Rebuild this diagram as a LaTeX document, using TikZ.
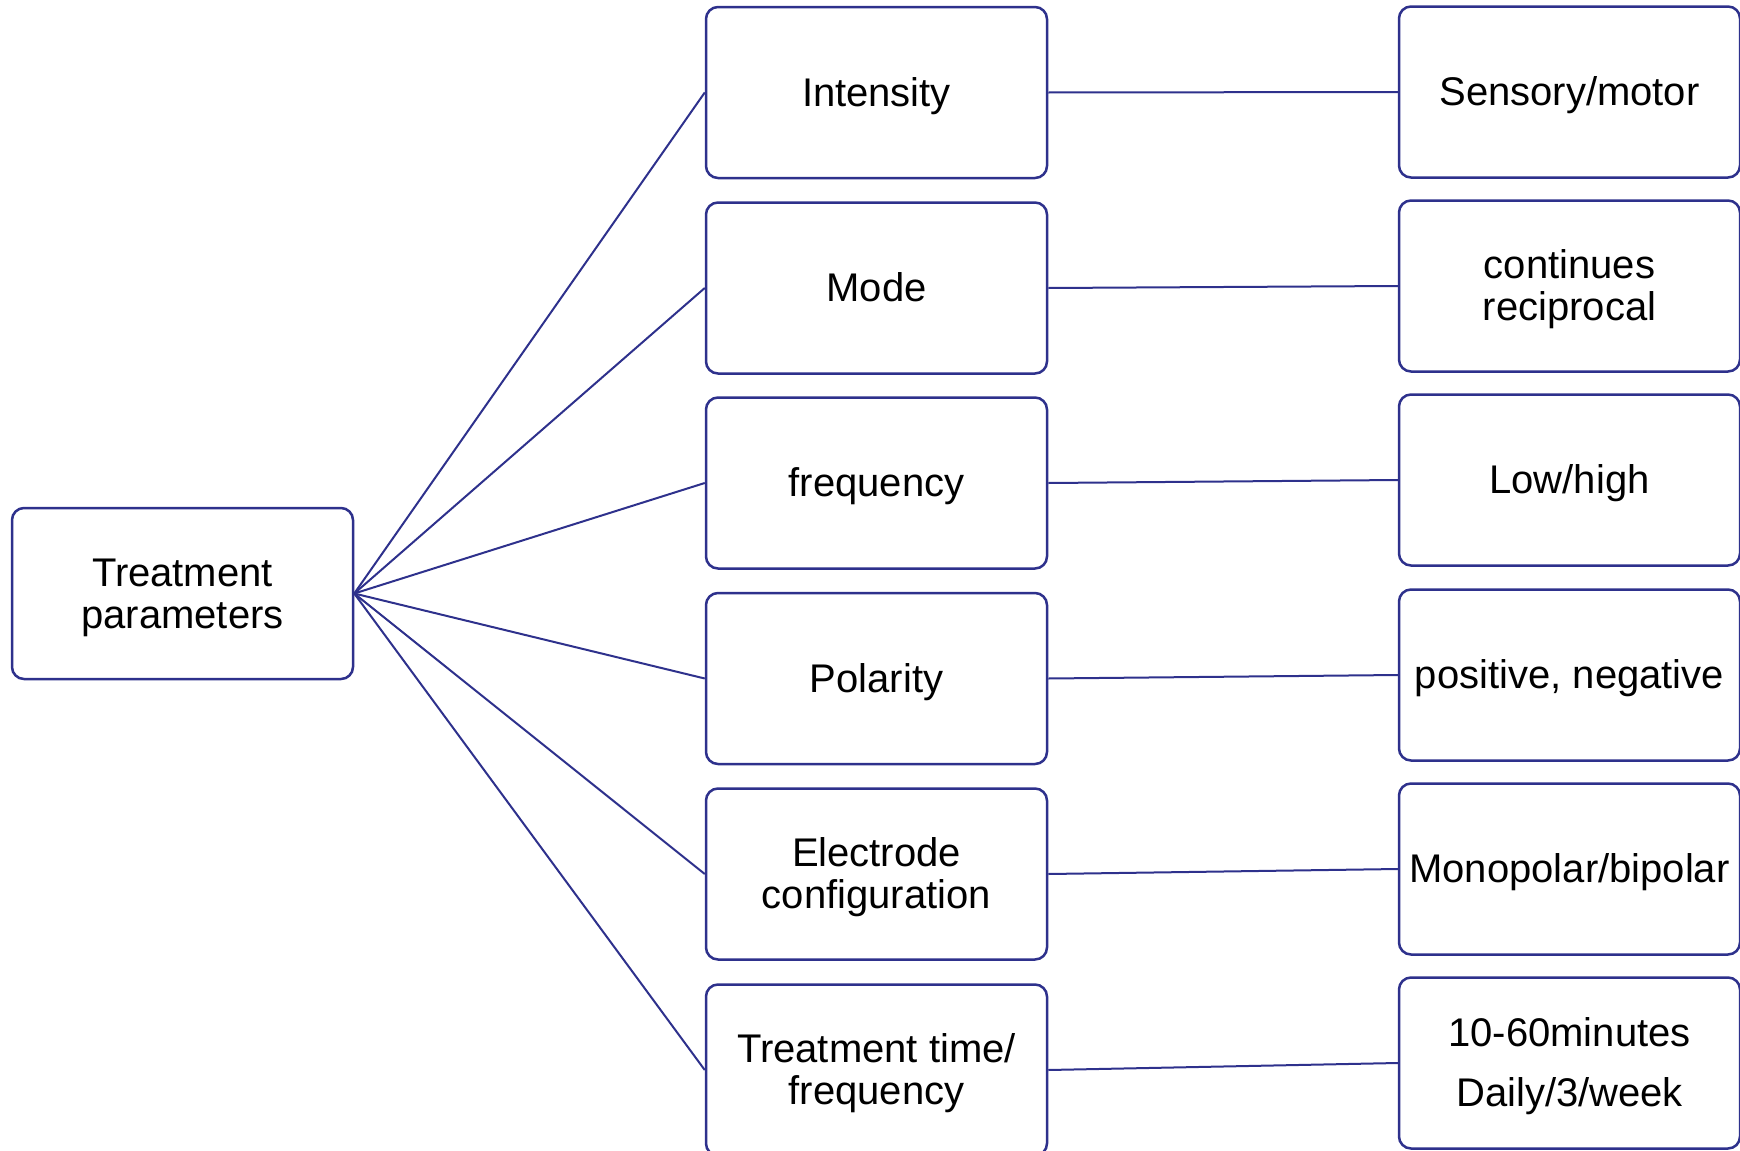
\documentclass[tikz,border=0pt]{standalone}
\usepackage{fontspec}
\setmainfont{Liberation Sans}
\definecolor{navy}{RGB}{46,49,140}
\newcommand{\bxt}[1]{\raisebox{-2.6pt}[\height][\depth]{\begin{tabular}{@{}c@{}}#1\end{tabular}}}
\begin{document}
\begin{tikzpicture}[x=0.5pt,y=-0.5pt,
  box/.style={draw=navy,line width=1.25pt,rounded corners=6pt,fill=white,
    minimum width=170.5pt,minimum height=85.5pt,inner sep=0pt,align=center,
    font=\fontsize{20}{21}\selectfont},
  link/.style={draw=navy,line width=1pt}]
\useasboundingbox (0,0) rectangle (1740,1151);
\node[box] (tp) at (182.5,593.5) {\bxt{Treatment\\parameters}};
\node[box] (m1) at (876.5,92.5) {\bxt{Intensity}};
\node[box] (m2) at (876.5,288) {\bxt{Mode}};
\node[box] (m3) at (876.5,483) {\bxt{frequency}};
\node[box] (m4) at (876.5,678.5) {\bxt{Polarity}};
\node[box] (m5) at (876.5,874) {\bxt{Electrode\\configuration}};
\node[box] (m6) at (876.5,1070) {\bxt{Treatment time/\\frequency}};
\node[box] (r1) at (1569.5,92) {\bxt{Sensory/motor}};
\node[box] (r2) at (1569.5,286) {\bxt{continues\\reciprocal}};
\node[box] (r3) at (1569.5,480) {\bxt{Low/high}};
\node[box] (r4) at (1569.5,675) {\bxt{positive, negative}};
\node[box] (r5) at (1569.5,869) {\bxt{Monopolar/bipolar}};
\node[box] (r6) at (1569.5,1063) {\bxt{10-60minutes\\[9pt]Daily/3/week}};
\foreach \i in {1,...,6}{
  \draw[link] (tp.east) -- (m\i.west);
  \draw[link] (m\i.east) -- (r\i.west);
}
\end{tikzpicture}
\end{document}
